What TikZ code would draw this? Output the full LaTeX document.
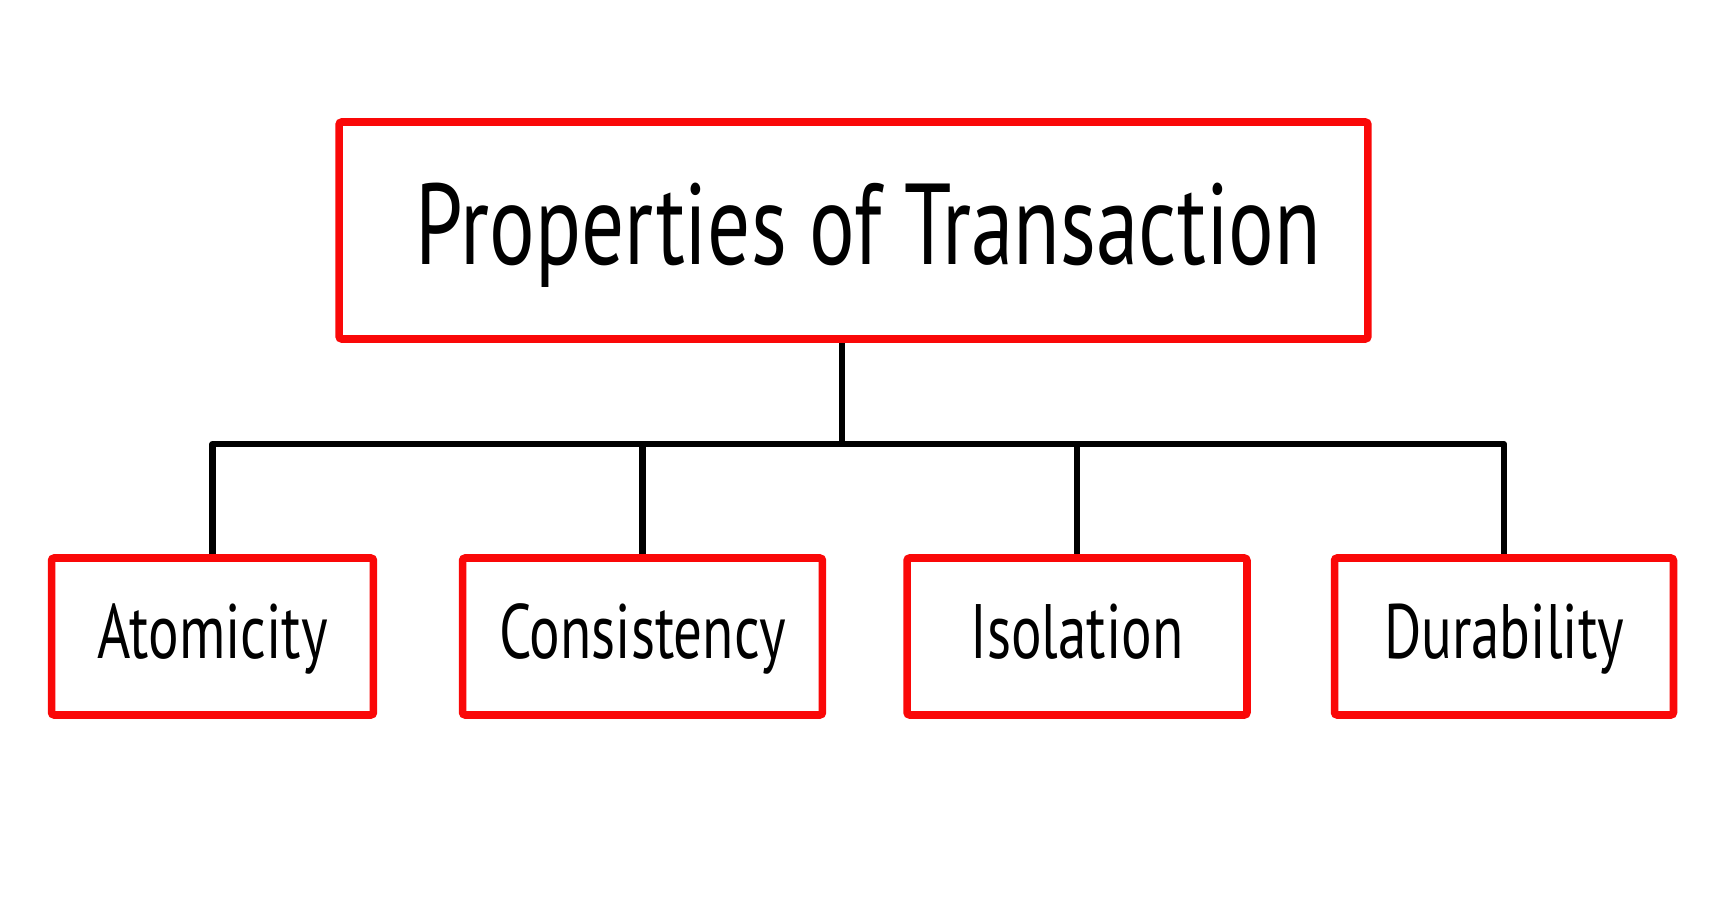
\documentclass[tikz,border=0pt]{standalone}
\usepackage{fontspec}
\setmainfont{PT Sans}
\usetikzlibrary{backgrounds}
\definecolor{boxred}{RGB}{250,8,8}
\tikzset{
  prop/.style={draw=boxred, line width=4.3pt, rounded corners=1.5pt, fill=white,
    inner sep=0pt, minimum height=3.14cm, text height=1.3cm, text depth=0.4cm,
    font=\fontsize{32.5}{38}\selectfont},
  link/.style={line width=3.5pt, line join=round, black},
}
\newcommand{\tall}[1]{\scalebox{1}[1.35]{#1}}

\begin{document}
\begin{tikzpicture}[x=0.02cm,y=-0.02cm]
  % top box
  \node[prop, minimum width=20.58cm, minimum height=4.34cm, text height=2.0cm, text depth=0.64cm,
    font=\fontsize{48.5}{58}\selectfont]
    (title) at (853.5,230.5) {\hspace*{0.6cm}\tall{Properties of Transaction}};

  % the four properties
  \node[prop, minimum width=6.44cm] (atom) at (212.5,636.5) {\tall{Atomicity}};
  \node[prop, minimum width=7.20cm] (cons) at (642.5,636.5) {\tall{Consistency}};
  \node[prop, minimum width=6.80cm] (isol) at (1077,636.5) {\tall{Isolation}};
  \node[prop, minimum width=6.78cm] (dura) at (1504,636.5) {\tall{Durability}};

  \coordinate (hub) at (842,444);

  \begin{pgfonlayer}{background}
    \fill[white] (0,0) rectangle (1725,912);
    \draw[link] (title.south -| hub) -- (hub);
    \draw[link] (atom.north) |- (hub) -| (dura.north);
    \draw[link] (cons.north) -- (cons.north |- hub);
    \draw[link] (isol.north) -- (isol.north |- hub);
  \end{pgfonlayer}
  \useasboundingbox (0,0) rectangle (1725,912);
\end{tikzpicture}
\end{document}
